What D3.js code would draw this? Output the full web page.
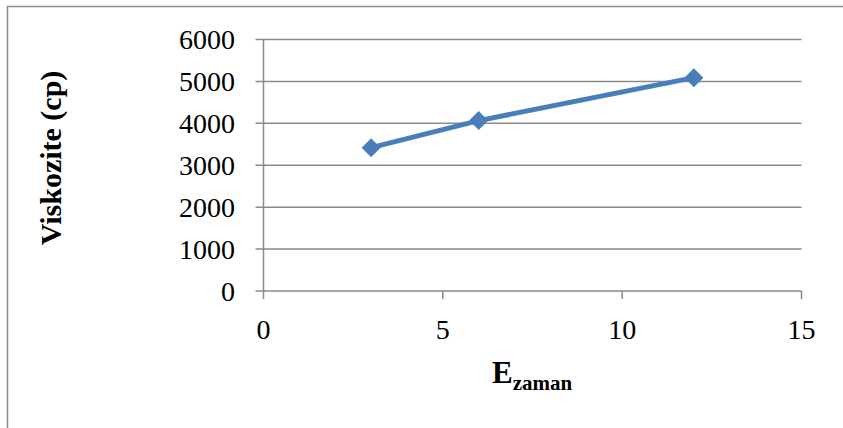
<!DOCTYPE html>
<html>
<head>
<meta charset="utf-8">
<script src="https://cdn.jsdelivr.net/npm/d3@7"></script>
<style>
  html, body { margin: 0; padding: 0; background: #fff; }
  svg { display: block; }
  text { font-family: "Liberation Serif", "Times New Roman", serif; fill: #000; }
</style>
</head>
<body>
<svg id="chart" width="843" height="428"></svg>
<script>
// Viscosity vs. time
const xValues = [3, 6, 12];
const viscosity = [3420, 4065, 5090];
const xTicks = [0, 5, 10, 15];
const yTicks = [0, 1000, 2000, 3000, 4000, 5000, 6000];

const svg = d3.select("#chart");
const W = 843, H = 428;

// chart frame (top and left edges)
svg.append("path")
  .attr("d", `M7.5,${H} V6.5 H${W}`)
  .attr("fill", "none")
  .attr("stroke", "#8c8c8c")
  .attr("stroke-width", 1.5);

const x = d3.scaleLinear().domain([0, 15]).range([263.5, 801.5]);
const y = d3.scaleLinear().domain([0, 6000]).range([291, 39.5]);

const grid = "#8a8a8a";

// horizontal gridlines
svg.append("g")
  .selectAll("line")
  .data(yTicks)
  .join("line")
  .attr("x1", x(0) - 8)
  .attr("x2", x(15))
  .attr("y1", d => y(d))
  .attr("y2", d => y(d))
  .attr("stroke", grid)
  .attr("stroke-width", 1.5);

// vertical axis line
svg.append("line")
  .attr("x1", x(0)).attr("x2", x(0))
  .attr("y1", y(6000)).attr("y2", y(0) + 8)
  .attr("stroke", grid).attr("stroke-width", 1.5);

// x tick marks
svg.append("g")
  .selectAll("line")
  .data(xTicks.slice(1))
  .join("line")
  .attr("x1", d => x(d)).attr("x2", d => x(d))
  .attr("y1", y(0)).attr("y2", y(0) + 8)
  .attr("stroke", grid).attr("stroke-width", 1.5);

// y tick labels
svg.append("g")
  .selectAll("text")
  .data(yTicks)
  .join("text")
  .attr("x", 235)
  .attr("y", d => y(d) + 9.5)
  .attr("text-anchor", "end")
  .style("font-size", "28px")
  .text(d => d);

// x tick labels
svg.append("g")
  .selectAll("text")
  .data(xTicks)
  .join("text")
  .attr("x", d => x(d))
  .attr("y", 339)
  .attr("text-anchor", "middle")
  .style("font-size", "28px")
  .text(d => d);

// axis titles
svg.append("text")
  .attr("transform", `translate(61,158) rotate(-90)`)
  .attr("text-anchor", "middle")
  .style("font-size", "30px")
  .style("font-weight", "bold")
  .text("Viskozite (cp)");

const xt = svg.append("text")
  .attr("x", 492)
  .attr("y", 383)
  .attr("text-anchor", "start")
  .style("font-weight", "bold");
xt.append("tspan").style("font-size", "31px").text("E");
xt.append("tspan").style("font-size", "21px").attr("dy", 7).text("zaman");

// data series
const pts = xValues.map((v, i) => [v, viscosity[i]]);
const blue = "#4a7ebb";

svg.append("path")
  .datum(pts)
  .attr("fill", "none")
  .attr("stroke", blue)
  .attr("stroke-width", 5)
  .attr("stroke-linejoin", "round")
  .attr("d", d3.line().x(d => x(d[0])).y(d => y(d[1])));

// diamond markers
svg.append("g")
  .selectAll("path")
  .data(pts)
  .join("path")
  .attr("transform", d => `translate(${x(d[0])},${y(d[1])}) rotate(45)`)
  .attr("d", d3.symbol().type(d3.symbolSquare).size(180))
  .attr("fill", blue);
</script>
</body>
</html>
